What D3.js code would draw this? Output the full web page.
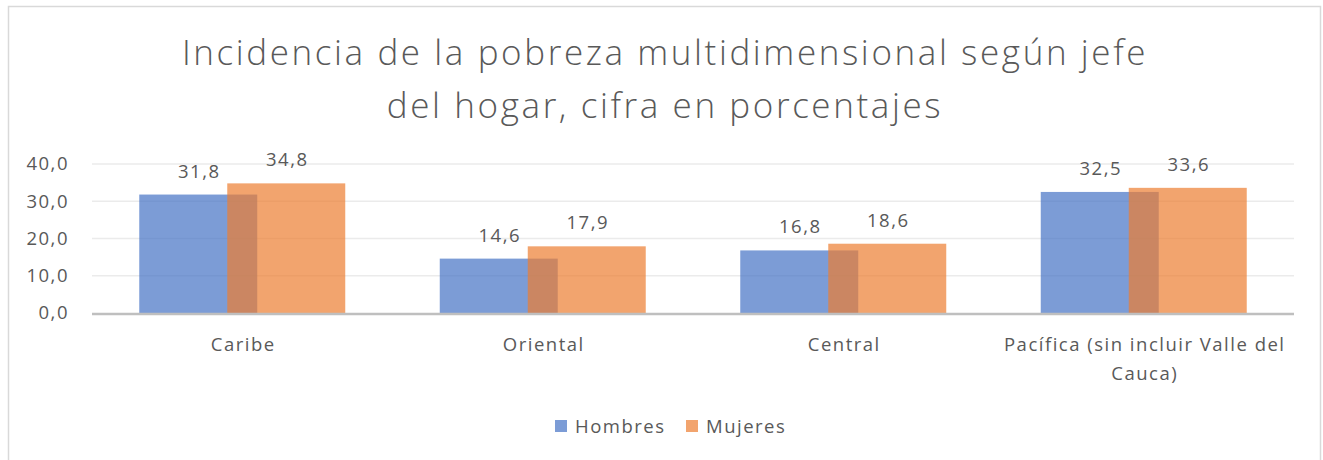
<!DOCTYPE html>
<html>
<head>
<meta charset="utf-8">
<script src="https://cdn.jsdelivr.net/npm/d3@7"></script>
<style>
  body { margin: 0; background: #fff; }
  text { font-family: "Open Sans", Lato, sans-serif; fill: #595959; }
</style>
</head>
<body>
<div id="myChart"></div>
<script>
const categories = ["Caribe", "Oriental", "Central", "Pacífica (sin incluir Valle del Cauca)"];
const hombres = [31.8, 14.6, 16.8, 32.5];
const mujeres = [34.8, 17.9, 18.6, 33.6];
const yTicks = [0, 10, 20, 30, 40];
const seriesNames = ["Hombres", "Mujeres"];
const colors = ["#4472C4", "#ED7D31"];

const W = 1323, H = 460;
const fs = "18.5px", ls = "1.5px";
let margin = { top: 164, right: 29, bottom: 147, left: 92 },
    width = W - margin.left - margin.right,
    height = H - margin.top - margin.bottom;

let root = d3.select("#myChart").append("svg")
  .attr("width", W)
  .attr("height", H);

// chart frame
root.append("rect")
  .attr("x", 8.5).attr("y", 6.5)
  .attr("width", 1312).attr("height", 470)
  .attr("fill", "none").attr("stroke", "#d9d9d9").attr("stroke-width", 1.5);

// title
const title = root.append("text")
  .attr("text-anchor", "middle")
  .style("font-size", "35px")
  .style("font-weight", 300)
  .style("letter-spacing", "2.6px")
  .style("fill", "#595959");
title.append("tspan").attr("x", 665).attr("y", 65).text("Incidencia de la pobreza multidimensional según jefe");
title.append("tspan").attr("x", 665).attr("y", 118).text("del hogar, cifra en porcentajes");

let svg = root.append("g")
  .attr("transform", "translate(" + margin.left + "," + margin.top + ")");

let x = d3.scaleBand().domain(categories).range([0, width]);
let y = d3.scaleLinear().domain([0, 40]).range([height, 0]);

// gridlines
svg.selectAll(".grid")
  .data(yTicks.filter(t => t > 0))
  .enter().append("line")
  .attr("x1", 0).attr("x2", width)
  .attr("y1", d => y(d)).attr("y2", d => y(d))
  .attr("stroke", "#ebebeb").attr("stroke-width", 1.5);

// y labels
svg.selectAll(".ylab")
  .data(yTicks)
  .enter().append("text")
  .attr("x", -23)
  .attr("y", d => y(d))
  .attr("dy", "0.35em")
  .attr("text-anchor", "end")
  .style("font-size", fs)
  .style("letter-spacing", ls)
  .text(d => d3.format(".1f")(d).replace(".", ","));

const barW = 118, offset = 44;
const rows = categories.map((c, i) => ({ c, vals: [hombres[i], mujeres[i]] }));

seriesNames.forEach((s, si) => {
  svg.selectAll(".bar" + si)
    .data(rows)
    .enter().append("rect")
    .attr("x", d => x(d.c) + x.bandwidth() / 2 + (si === 0 ? -offset : offset) - barW / 2)
    .attr("width", barW)
    .attr("y", d => y(d.vals[si]))
    .attr("height", d => height - y(d.vals[si]))
    .attr("fill", colors[si])
    .attr("fill-opacity", 0.7);

  svg.selectAll(".lab" + si)
    .data(rows)
    .enter().append("text")
    .attr("x", d => x(d.c) + x.bandwidth() / 2 + (si === 0 ? -offset : offset) + 1)
    .attr("y", d => y(d.vals[si]) - 17)
    .attr("text-anchor", "middle")
    .style("font-size", fs)
    .style("letter-spacing", ls)
    .text(d => d3.format(".1f")(d.vals[si]).replace(".", ","));
});

// baseline
svg.append("line")
  .attr("x1", 0).attr("x2", width)
  .attr("y1", height + 1).attr("y2", height + 1)
  .attr("stroke", "#bfbfbf").attr("stroke-width", 2.5);

// category labels, wrapped
function wrapLines(str, maxW) {
  const words = str.split(" ");
  const lines = [];
  let cur = "";
  const tmp = svg.append("text").style("font-size", fs).style("letter-spacing", ls);
  words.forEach(w => {
    const test = cur ? cur + " " + w : w;
    tmp.text(test);
    if (tmp.node().getComputedTextLength() > maxW && cur) {
      lines.push(cur);
      cur = w;
    } else cur = test;
  });
  lines.push(cur);
  tmp.remove();
  return lines;
}

categories.forEach(c => {
  const t = svg.append("text")
    .attr("text-anchor", "middle")
    .style("font-size", fs)
    .style("letter-spacing", ls);
  wrapLines(c, 292).forEach((line, i) => {
    t.append("tspan")
      .attr("x", x(c) + x.bandwidth() / 2 + 1)
      .attr("y", height + 38 + i * 29)
      .text(line);
  });
});

// legend
const legend = root.append("g");
const legendX = [555, 686];
seriesNames.forEach((s, i) => {
  legend.append("rect")
    .attr("x", legendX[i]).attr("y", 420)
    .attr("width", 12).attr("height", 12)
    .attr("fill", colors[i]).attr("fill-opacity", 0.7);
  legend.append("text")
    .attr("x", legendX[i] + 20).attr("y", 433)
    .style("font-size", fs)
    .style("letter-spacing", ls)
    .text(s);
});
</script>
</body>
</html>
